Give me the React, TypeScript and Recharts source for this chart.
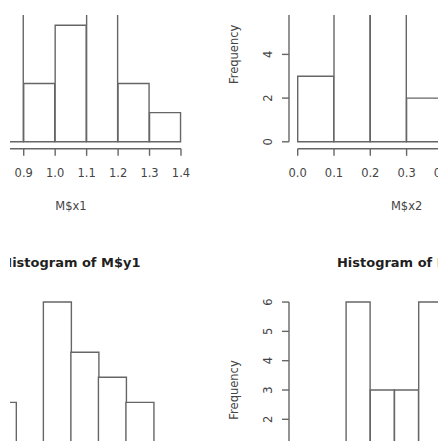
import React from 'react';
import { BarChart, Bar, XAxis, YAxis, ReferenceLine, Label } from 'recharts';

// ---- data ----
const x1Breaks = [0.7, 0.8, 0.9, 1.0, 1.1, 1.2, 1.3, 1.4];
const x1Counts = [1, 5, 2, 4, 6, 2, 1];
const x1FreqTicks = [0, 1, 2, 3, 4, 5, 6];

const x2Breaks = [0.0, 0.1, 0.2, 0.3, 0.4, 0.5, 0.6];
const x2Counts = [3, 8, 7, 2, 0, 1];
const x2FreqTicks = [0, 2, 4, 6, 8];

const y1Breaks = [1.2, 1.4, 1.6, 1.8, 2.0, 2.2, 2.4, 2.6, 2.8];
const y1Counts = [1, 3, 1, 7, 5, 4, 3, 1];
const y1FreqTicks = [0, 1, 2, 3, 4, 5, 6, 7];

const y2Breaks = [0.0, 0.5, 1.0, 1.5, 2.0, 2.5, 3.0, 3.5, 4.0, 4.5];
const y2Counts = [1, 1, 6, 3, 3, 6, 4, 2, 1];
const y2FreqTicks = [0, 1, 2, 3, 4, 5, 6];

// ---- styles ----
const FONT = '"DejaVu Sans", "Liberation Sans", sans-serif';
const LINE = '#666';
const LW = 1.4;
const TEXT = '#444';
const TITLE = '#1f1f1f';
const FS = 11.5;

const YW = 80;
const TH = 50;
const XH = 75;
const RM = 10;

type HistProps = {
  breaks: number[];
  counts: number[];
  freqTicks: number[];
  varName: string;
  plotLeft: number;
  plotTop: number;
  plotWidth: number;
  plotHeight: number;
};

const YTick = (props: any) => {
  const { x, y, payload } = props;
  return (
    <text
      x={x}
      y={y}
      transform={`rotate(-90 ${x} ${y})`}
      textAnchor="middle"
      dominantBaseline="central"
      fill={TEXT}
      fontSize={FS}
      fontFamily={FONT}
    >
      {String(payload.value)}
    </text>
  );
};

function Histogram(p: HistProps) {
  const { breaks, counts, freqTicks, varName, plotLeft, plotTop, plotWidth, plotHeight } = p;
  const b0 = breaks[0];
  const bN = breaks[breaks.length - 1];
  const ext = (bN - b0) * 0.04;
  const xDomain: [number, number] = [b0 - ext, bN + ext];
  const yMax = Math.max(...counts);
  const yDomain: [number, number] = [-0.04 * yMax, 1.04 * yMax];
  const pad = (plotWidth * 0.04) / 1.08;
  const data = counts.map((c, i) => ({
    bin: `${breaks[i]}-${breaks[i + 1]}`,
    mid: (breaks[i] + breaks[i + 1]) / 2,
    count: c,
  }));

  const xLabel = (lp: any) => {
    const vb = lp.viewBox;
    return (
      <text x={vb.x + vb.width / 2} y={vb.y + 57} textAnchor="middle" dominantBaseline="central"
        fill={TEXT} fontSize={FS} fontFamily={FONT}>{varName}</text>
    );
  };
  const titleLabel = (lp: any) => {
    const vb = lp.viewBox;
    return (
      <text x={vb.x + vb.width / 2} y={vb.y + vb.height - 32} textAnchor="middle" dominantBaseline="central"
        fill={TITLE} fontSize={13} fontWeight="bold" fontFamily={FONT}>{`Histogram of ${varName}`}</text>
    );
  };
  const yLabel = (lp: any) => {
    const vb = lp.viewBox;
    const cx = vb.x + vb.width - 55;
    const cy = vb.y + vb.height / 2;
    return (
      <text x={cx} y={cy} transform={`rotate(-90 ${cx} ${cy})`} textAnchor="middle" dominantBaseline="central"
        fill={TEXT} fontSize={FS} fontFamily={FONT}>Frequency</text>
    );
  };

  return (
    <div style={{ position: 'absolute', left: plotLeft - YW, top: plotTop - TH }}>
      <BarChart
        width={YW + plotWidth + RM}
        height={TH + plotHeight + XH}
        data={data}
        margin={{ top: 0, right: RM, bottom: 0, left: 0 }}
        barCategoryGap={0}
        barGap={0}
      >
        <XAxis xAxisId="bins" dataKey="bin" type="category" hide height={0} padding={{ left: pad, right: pad }} />
        <XAxis
          xAxisId="num"
          dataKey="mid"
          type="number"
          domain={xDomain}
          allowDataOverflow
          ticks={breaks}
          interval={0}
          tickFormatter={(v: number) => v.toFixed(1)}
          axisLine={false}
          tickLine={{ stroke: LINE, strokeWidth: LW }}
          tickSize={7}
          tickMargin={13.5}
          height={XH}
          tick={{ fill: TEXT, fontSize: FS, fontFamily: FONT }}
        >
          <Label content={xLabel} />
        </XAxis>
        <XAxis
          xAxisId="title"
          dataKey="mid"
          orientation="top"
          type="number"
          domain={xDomain}
          allowDataOverflow
          height={TH}
          tick={false}
          axisLine={false}
          tickLine={false}
        >
          <Label content={titleLabel} />
        </XAxis>
        <YAxis
          type="number"
          domain={yDomain}
          allowDataOverflow
          ticks={freqTicks}
          interval={0}
          width={YW}
          axisLine={false}
          tickLine={{ stroke: LINE, strokeWidth: LW }}
          tickSize={7}
          tickMargin={14}
          tick={<YTick />}
        >
          <Label content={yLabel} />
        </YAxis>
        <Bar xAxisId="bins" dataKey="count" fill="#ffffff" stroke={LINE} strokeWidth={LW} isAnimationActive={false} />
        <ReferenceLine
          xAxisId="num"
          segment={[{ x: b0, y: yDomain[0] }, { x: bN, y: yDomain[0] }]}
          stroke={LINE}
          strokeWidth={LW}
          ifOverflow="visible"
        />
        <ReferenceLine
          xAxisId="num"
          segment={[{ x: xDomain[0], y: 0 }, { x: xDomain[0], y: yMax }]}
          stroke={LINE}
          strokeWidth={LW}
          ifOverflow="visible"
        />
      </BarChart>
    </div>
  );
}

export default function App() {
  return (
    <div style={{ position: 'absolute', left: 0, top: 0, width: 438, height: 441, overflow: 'hidden', background: '#fff' }}>
      <Histogram breaks={x1Breaks} counts={x1Counts} freqTicks={x1FreqTicks} varName="M$x1"
        plotLeft={-47.7} plotTop={-40.1} plotWidth={237.8} plotHeight={188.8} />
      <Histogram breaks={x2Breaks} counts={x2Counts} freqTicks={x2FreqTicks} varName="M$x2"
        plotLeft={289.3} plotTop={-40.1} plotWidth={235.2} plotHeight={188.8} />
      <Histogram breaks={y1Breaks} counts={y1Counts} freqTicks={y1FreqTicks} varName="M$y1"
        plotLeft={-47.7} plotTop={295} plotWidth={237.8} plotHeight={189.6} />
      <Histogram breaks={y2Breaks} counts={y2Counts} freqTicks={y2FreqTicks} varName="M$y2"
        plotLeft={289.3} plotTop={294.7} plotWidth={235.2} plotHeight={190} />
      <div style={{ position: 'absolute', left: 0, top: 0, width: 438, height: 15, background: '#fff' }} />
      <div style={{ position: 'absolute', left: 0, top: 0, width: 9.5, height: 441, background: '#fff' }} />
    </div>
  );
}
